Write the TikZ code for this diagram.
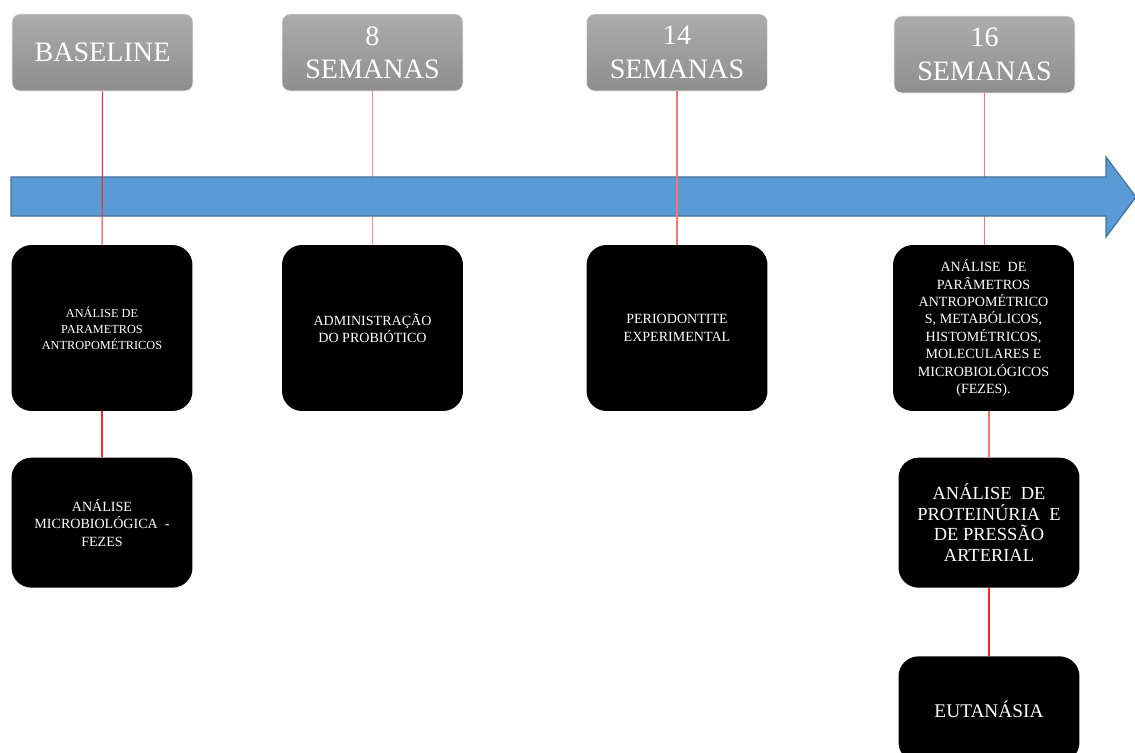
\documentclass[tikz,border=0pt]{standalone}
\usepackage{fontspec}
\setmainfont{Liberation Serif}
\usepackage{tikz}
\definecolor{tlblue}{RGB}{91,155,213}
\definecolor{tlblueedge}{RGB}{65,113,156}
\definecolor{tlgraytop}{RGB}{172,172,172}
\definecolor{tlgraybot}{RGB}{142,142,142}
\usetikzlibrary{positioning}
\tikzset{
    tlhead/.style={rounded corners=0.16cm, draw=white!85!gray, line width=0.4pt,
        top color=tlgraytop, bottom color=tlgraybot, text=white, align=center,
        minimum width=3.62cm, minimum height=1.54cm, inner sep=0pt,
        font=\fontsize{16}{19}\selectfont},
    tlbox/.style={rounded corners=0.4cm, fill=black, text=white, align=center,
        minimum width=3.62cm, minimum height=3.32cm, inner sep=0pt},
    tllink/.style={draw=red!85, line width=0.6pt},
    tlarrow/.style={fill=tlblue, draw=tlblueedge, line width=0.7pt}
}

\begin{document}
\begin{tikzpicture}[x=0.02cm, y=-0.02cm, node distance=0.92cm]
  \clip (0,0) rectangle (1135,753);
  % time points
  \node[tlhead] (hbase) at (102.5,52.5) {BASELINE};
  \node[tlhead] (h8)    at (372.5,52.5) {8\\SEMANAS};
  \node[tlhead] (h14)   at (677,52.5)   {14\\SEMANAS};
  \node[tlhead] (h16)   at (984.5,54.5) {16\\SEMANAS};
  % tasks
  \node[tlbox, font=\fontsize{7}{9}\selectfont] (bbase1) at (102,328)
    {ANÁLISE DE\\PARAMETROS\\ANTROPOMÉTRICOS};
  \node[tlbox, minimum height=2.6cm, font=\fontsize{8}{10}\selectfont, below=of bbase1] (bbase2)
    {ANÁLISE\\MICROBIOLÓGICA\ \ -\\FEZES};
  \node[tlbox, font=\fontsize{8}{10}\selectfont] (b8) at (372.5,328)
    {ADMINISTRAÇÃO\\DO PROBIÓTICO};
  \node[tlbox, font=\fontsize{8}{10}\selectfont] (b14) at (677,328)
    {PERIODONTITE\\EXPERIMENTAL};
  \node[tlbox, font=\fontsize{8}{9.9}\selectfont] (b16a) at (983.5,328)
    {ANÁLISE \ DE\\PARÂMETROS\\ANTROPOMÉTRICO\\S, METABÓLICOS,\\HISTOMÉTRICOS,\\MOLECULARES E\\MICROBIOLÓGICOS\\(FEZES).};
  \node[tlbox, minimum height=2.6cm, font=\fontsize{10.5}{11.7}\selectfont, below=of b16a, xshift=0.11cm] (b16b)
    {ANÁLISE \ DE\\PROTEINÚRIA \ E\\DE PRESSÃO\\ARTERIAL};
  \node[tlbox, minimum height=2.12cm, font=\fontsize{11}{13}\selectfont, below=1.36cm of b16b] (b16c)
    {EUTANÁSIA};
  % links behind the arrow
  \draw[tllink, draw=red!45] (h8) -- (b8);
  \draw[tllink, draw=red!55] (h16.south) -- (h16.south |- b16a.north);
  % timeline
  \draw[tlarrow] (11,177) -- (1106,177) -- (1106,157) -- (1136,197)
    -- (1106,237) -- (1106,216) -- (11,216) -- cycle;
  % links in front
  \draw[tllink] (hbase) -- (bbase1);
  \draw[tllink, draw=red!55] (h14) -- (b14);
  \draw[tllink] (bbase1) -- (bbase2);
  \draw[tllink, draw=red!55] (b16b.north |- b16a.south) -- (b16b.north);
  \draw[tllink] (b16b) -- (b16c);
\end{tikzpicture}
\end{document}
